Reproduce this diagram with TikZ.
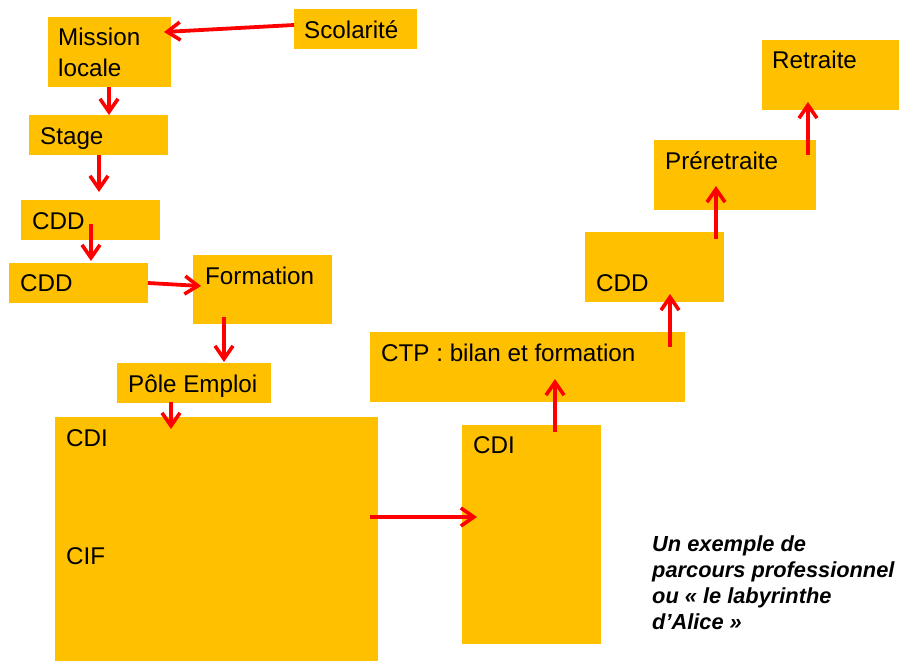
\documentclass[tikz,border=0pt]{standalone}
\usepackage{fontspec}
\setmainfont{Liberation Sans}
\usetikzlibrary{arrows.meta}
\definecolor{boxgold}{HTML}{FFC000}
\definecolor{arrred}{HTML}{FF0000}
\tikzset{
  box/.style={fill=boxgold, draw=none, anchor=north west, inner sep=0pt},
  lbl/.style={anchor=base west, inner sep=0pt, font=\fontsize{24.2}{30}\selectfont, align=left},
  captiontext/.style={anchor=base west, inner sep=0pt, font=\fontsize{21.8}{25.7}\selectfont\bfseries\itshape, align=left},
  arr/.style={draw=arrred, line width=3.8pt, -{Straight Barb[length=13pt,width=18pt,line width=3.6pt]}}
}
\newcommand{\boxat}[5]{\node[box, minimum width=#4pt, minimum height=#5pt] (#1) at (#2,#3) {};}
\begin{document}
\begin{tikzpicture}[x=1pt,y=-1pt]
\useasboundingbox (0,0) rectangle (899,661);

% boxes (name, left, top, width, height)
\boxat{scol}{294}{9}{123}{40}
\boxat{mission}{48}{17}{123}{70}
\boxat{stage}{29}{115}{139}{40}
\boxat{cddA}{21}{200}{139}{40}
\boxat{cddB}{9}{263}{139}{40}
\boxat{form}{193}{255}{139}{69}
\boxat{pole}{117}{363}{154}{40}
\boxat{cdiA}{55}{417}{323}{244}
\boxat{cdiB}{462}{425}{139}{219}
\boxat{ctp}{370}{332}{315}{70}
\boxat{cddC}{585}{232}{139}{70}
\boxat{pre}{654}{140}{162}{70}
\boxat{ret}{762}{40}{137}{70}

% labels (multi-line labels are placed by their last baseline)
\node[lbl] (tscol) at (304,38) {Scolarité};
\node[lbl] (tmission) at (58,76) {Mission\\locale};
\node[lbl] (tstage) at (40,144) {Stage};
\node[lbl] (tcddA) at (32,229) {CDD};
\node[lbl] (tcddB) at (20,291) {CDD};
\node[lbl] (tform) at (205,284) {Formation};
\node[lbl] (tpole) at (128,392) {Pôle Emploi};
\node[lbl] (tcdiA) at (66,446) {CDI};
\node[lbl] (tcif) at (66,564) {CIF};
\node[lbl] (tcdiB) at (473,453) {CDI};
\node[lbl] (tctp) at (381,361) {CTP : bilan et formation};
\node[lbl] (tcddC) at (596,291) {CDD};
\node[lbl] (tpre) at (665,169) {Préretraite};
\node[lbl] (tret) at (772,69) {Retraite};

\node[captiontext] (caption) at (652,629) {Un exemple de\\parcours professionnel\\ou « le labyrinthe\\d’Alice »};

% connector end points
\coordinate (a1s) at (294,25);  \coordinate (a1e) at (164,32);
\coordinate (a2s) at (109,87);  \coordinate (a2e) at (109,115);
\coordinate (a3s) at (99,155);  \coordinate (a3e) at (99,192);
\coordinate (a4s) at (91,224);  \coordinate (a4e) at (91,261);
\coordinate (a5s) at (148,283); \coordinate (a5e) at (201,286);
\coordinate (a6s) at (224,317); \coordinate (a6e) at (224,362);
\coordinate (a7s) at (171,402); \coordinate (a7e) at (171,429);
\coordinate (a8s) at (370,517); \coordinate (a8e) at (477,517);
\coordinate (a9s) at (555,432); \coordinate (a9e) at (555,379);
\coordinate (a10s) at (670,347); \coordinate (a10e) at (670,294);
\coordinate (a11s) at (716,239); \coordinate (a11e) at (716,186);
\coordinate (a12s) at (808,155); \coordinate (a12e) at (808,102);

\draw[arr] (a1s) -- (a1e);
\draw[arr] (a2s) -- (a2e);
\draw[arr] (a3s) -- (a3e);
\draw[arr] (a4s) -- (a4e);
\draw[arr] (a5s) -- (a5e);
\draw[arr] (a6s) -- (a6e);
\draw[arr] (a7s) -- (a7e);
\draw[arr] (a8s) -- (a8e);
\draw[arr] (a9s) -- (a9e);
\draw[arr] (a10s) -- (a10e);
\draw[arr] (a11s) -- (a11e);
\draw[arr] (a12s) -- (a12e);
\end{tikzpicture}
\end{document}
